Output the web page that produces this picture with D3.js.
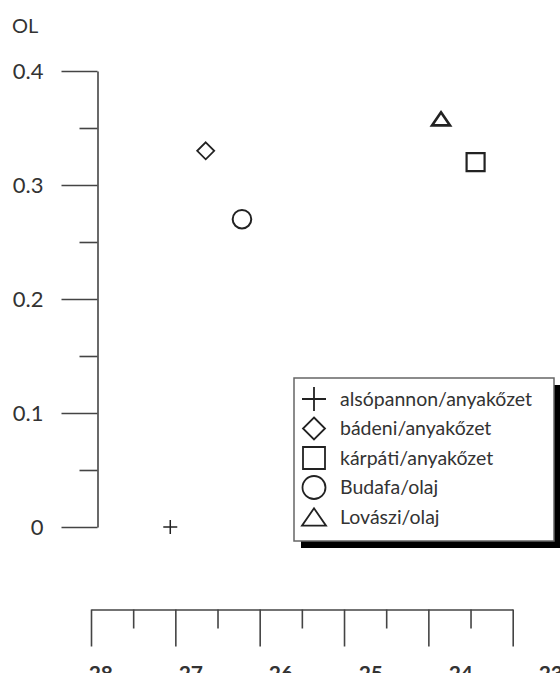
<!DOCTYPE html>
<html>
<head>
<meta charset="utf-8">
<script src="https://cdn.jsdelivr.net/npm/d3@7"></script>
<style>
  html, body { margin: 0; padding: 0; background: #ffffff; }
  svg { display: block; }
  text { font-family: Lato, "Open Sans", sans-serif; fill: #333; }
</style>
</head>
<body>
<div id="chart"></div>
<script>
// ---- data ----
const categories = ["alsópannon/anyakőzet", "bádeni/anyakőzet", "kárpáti/anyakőzet", "Budafa/olaj", "Lovászi/olaj"];
const shapes = ["plus", "diamond", "square", "circle", "triangle"];
const xValues = [-27.06, -26.64, -23.44, -26.21, -23.85];
const yValues = [0.0, 0.33, 0.32, 0.27, 0.358];
const yMajorTicks = [0, 0.1, 0.2, 0.3, 0.4];
const yMinorTicks = [0.05, 0.15, 0.25, 0.35];
const xMajorTicks = [-28, -27, -26, -25, -24, -23];
const xMinorTicks = [-27.5, -26.5, -25.5, -24.5, -23.5];
const yTitle = "OL";

const W = 560, H = 673;
const svg = d3.select("#chart").append("svg").attr("width", W).attr("height", H);

const x = d3.scaleLinear().domain([-28, -23]).range([91, 512.7]);
const xLabel = d3.scaleLinear().domain([-28, -23]).range([113, 563]);
const y = d3.scaleLinear().domain([0, 0.4]).range([527, 71]);

const axisColor = "#444";

// y axis
const yAxisX = 97.5;
const gy = svg.append("g").attr("transform", `translate(${yAxisX},0)`);
gy.call(d3.axisLeft(y).tickValues(yMajorTicks).tickSize(36).tickSizeOuter(0).tickPadding(18)
  .tickFormat(d => d === 0 ? "0" : d3.format(".1f")(d)));
gy.append("g").call(d3.axisLeft(y).tickValues(yMinorTicks).tickSize(18).tickFormat(""))
  .select(".domain").remove();
gy.selectAll("path.domain, line").attr("stroke", axisColor).attr("stroke-width", 1.6);
gy.selectAll("text").style("font-size", "22px").attr("fill", "#333")
  .attr("font-family", "Lato, 'Open Sans', sans-serif").attr("dy", "0.36em");

svg.append("text").attr("x", 12).attr("y", 33).style("font-size", "20px").text(yTitle);

// x axis
const xAxisY = 609.5;
const gx = svg.append("g").attr("transform", `translate(0,${xAxisY})`);
gx.call(d3.axisBottom(x).tickValues(xMajorTicks).tickSize(37).tickSizeOuter(0).tickFormat(""));
gx.append("g").call(d3.axisBottom(x).tickValues(xMinorTicks).tickSize(19).tickFormat(""))
  .select(".domain").remove();
gx.selectAll("path.domain, line").attr("stroke", axisColor).attr("stroke-width", 1.6);
svg.append("g").selectAll("text").data(xMajorTicks).join("text")
  .attr("x", d => xLabel(d)).attr("y", 681)
  .attr("text-anchor", "end").style("font-size", "21px").style("font-weight", "bold")
  .text(d => "-" + Math.abs(d));

// symbol path generator
function shapePath(type, s) {
  const p = d3.path();
  if (type === "plus") {
    p.moveTo(-s, 0); p.lineTo(s, 0); p.moveTo(0, -s); p.lineTo(0, s);
  } else if (type === "diamond") {
    p.moveTo(0, -s); p.lineTo(s, 0); p.lineTo(0, s); p.lineTo(-s, 0); p.closePath();
  } else if (type === "square") {
    p.rect(-s, -s, 2 * s, 2 * s);
  } else if (type === "circle") {
    p.arc(0, 0, s, 0, 2 * Math.PI);
  } else if (type === "triangle") {
    const h = s * 1.45 / 2;
    p.moveTo(0, -h); p.lineTo(s, h); p.lineTo(-s, h); p.closePath();
  }
  return p.toString();
}
const plotSize = { plus: 7, diamond: 8.5, square: 9, circle: 9.3, triangle: 9 };
const plotWidth = { plus: 1.5, diamond: 1.8, square: 2.2, circle: 2, triangle: 2.6 };
const legSize = { plus: 12, diamond: 11, square: 11, circle: 11.5, triangle: 12 };

const pts = categories.map((c, i) => ({ c, shape: shapes[i], x: xValues[i], y: yValues[i] }));
svg.append("g").selectAll("path").data(pts).join("path")
  .attr("transform", d => `translate(${x(d.x)},${y(d.y)})`)
  .attr("d", d => shapePath(d.shape, plotSize[d.shape]))
  .attr("fill", "none").attr("stroke", "#222")
  .attr("stroke-width", d => plotWidth[d.shape]);

// legend
const lg = svg.append("g");
const lx = 294, ly = 378, lw = 260, lh = 163;
lg.append("rect").attr("x", lx + 7).attr("y", ly + 7).attr("width", lw).attr("height", lh).attr("fill", "#000");
lg.append("rect").attr("x", lx).attr("y", ly).attr("width", lw).attr("height", lh)
  .attr("fill", "#fff").attr("stroke", "#666").attr("stroke-width", 1.5);
const rowY = d3.scalePoint().domain(categories).range([399, 517]);
const rows = lg.selectAll("g.row").data(pts).join("g").attr("class", "row")
  .attr("transform", d => `translate(0,${rowY(d.c)})`);
rows.append("path").attr("transform", `translate(314,0)`)
  .attr("d", d => shapePath(d.shape, legSize[d.shape]))
  .attr("fill", "none").attr("stroke", "#222").attr("stroke-width", 1.8);
rows.append("text").attr("x", 340).attr("dy", "0.35em").style("font-size", "19.5px").text(d => d.c);
</script>
</body>
</html>
